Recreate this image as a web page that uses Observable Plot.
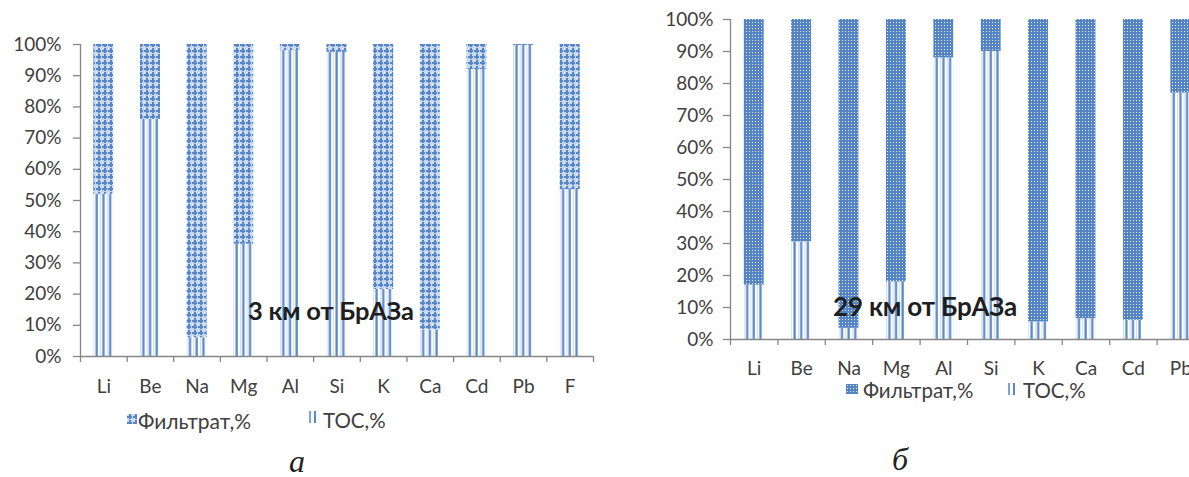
<!DOCTYPE html>
<html>
<head>
<meta charset="utf-8">
<script src="https://cdn.jsdelivr.net/npm/d3@7"></script>
<script src="https://cdn.jsdelivr.net/npm/@observablehq/plot@0.6"></script>
<style>
  html, body { margin: 0; padding: 0; background: #fff; }
  body { width: 1189px; height: 477px; overflow: hidden; position: relative; font-family: Lato, "Open Sans", sans-serif; color: #404040; }
  .abs { position: absolute; white-space: nowrap; }
  .chart { position: absolute; overflow: visible; }
  .chart svg { max-width: none !important; display: block; }
  .leg { position: absolute; font-size: 20.5px; line-height: 1; color: #404040; white-space: nowrap; }
  .note { position: absolute; font-weight: bold; line-height: 1; color: #1e1e1e; white-space: nowrap; letter-spacing: -0.2px; }
  .cap { position: absolute; font-family: "Liberation Serif", "DejaVu Serif", serif; font-style: italic; font-size: 32px; line-height: 1; color: #222; }
</style>
</head>
<body>
<svg width="0" height="0" style="position:absolute">
  <defs>
    <pattern id="patFiltA" patternUnits="userSpaceOnUse" width="6" height="6">
      <rect width="6" height="6" fill="#c6d6ee"/>
      <rect x="0" y="0" width="1" height="1" fill="#f2f6fc"/>
      <rect x="0" y="2" width="5" height="2" fill="#5686c6"/>
      <rect x="2" y="0" width="2" height="5" fill="#5686c6"/>
    </pattern>
    <pattern id="patFiltB" patternUnits="userSpaceOnUse" width="3" height="3">
      <rect width="3" height="3" fill="#5584c4"/>
      <rect x="1" y="1" width="1" height="1" fill="#e6edf8"/>
    </pattern>
    <pattern id="patToc" patternUnits="objectBoundingBox" patternContentUnits="objectBoundingBox" width="0.33333" height="1">
      <rect width="0.33333" height="1" fill="#ffffff"/>
      <rect x="0" width="0.04" height="1" fill="#c5d5ec"/>
      <rect x="0.115" width="0.115" height="1" fill="#5b88c8"/>
    </pattern>
  </defs>
</svg>

<div id="chartA" class="chart" style="left:0px; top:30px; width:600px; height:370px;"></div>
<div id="chartB" class="chart" style="left:640px; top:0px; width:574px; height:380px;"></div>

<div class="note" style="left:248px; top:298px; font-size:25.5px;">3 км от БрАЗа</div>
<div class="note" style="left:833px; top:293px; font-size:26px;">29 км от БрАЗа</div>

<div class="abs" style="left:127px; top:414px;"><svg width="10" height="10" style="display:block"><rect width="10" height="10" fill="url(#patFiltA)"/></svg></div>
<div class="leg" style="left:138px; top:410px; font-size:21px;">Фильтрат,%</div>
<div class="abs" style="left:307px; top:411px;"><svg width="12" height="12" style="display:block"><rect x="2" width="2" height="12" fill="#7fa3d6"/><rect x="7" width="2" height="12" fill="#5b88c8"/></svg></div>
<div class="leg" style="left:323px; top:410px;">ТОС,%</div>

<div class="abs" style="left:846px; top:384px;"><svg width="12" height="10" style="display:block"><rect width="12" height="10" fill="url(#patFiltB)"/></svg></div>
<div class="leg" style="left:863px; top:380px;">Фильтрат,%</div>
<div class="abs" style="left:1007px; top:383px;"><svg width="10" height="12" style="display:block"><rect x="1" width="2" height="12" fill="#7fa3d6"/><rect x="6" width="2" height="12" fill="#5b88c8"/></svg></div>
<div class="leg" style="left:1023px; top:380px;">ТОС,%</div>

<div class="cap" style="left:289px; top:445px;">а</div>
<div class="cap" style="left:892px; top:443px;">б</div>

<script>
// ---- data (panel а: 3 км) ----
const elementsA = ["Li", "Be", "Na", "Mg", "Al", "Si", "K", "Ca", "Cd", "Pb", "F"];
const tocA      = [52, 76, 6, 36, 98, 97.5, 21.5, 8.5, 92, 99.7, 53.5];
const filtrA    = [48, 24, 94, 64, 2, 2.5, 78.5, 91.5, 8, 0.3, 46.5];

// ---- data (panel б: 29 км) ----
const elementsB = ["Li", "Be", "Na", "Mg", "Al", "Si", "K", "Ca", "Cd", "Pb"];
const tocB      = [17, 30.5, 3.5, 18, 88, 90, 5.5, 6.5, 6, 77];
const filtrB    = [83, 69.5, 96.5, 82, 12, 10, 94.5, 93.5, 94, 23];

const seriesNames = ["ТОС", "Фильтрат"];
const yTicks = [0, 10, 20, 30, 40, 50, 60, 70, 80, 90, 100];

const axisColor = "#868686";
const textColor = "#404040";

function makeChart({elements, toc, filtr, filtPattern, width, height, marginLeft, marginRight, marginTop, marginBottom, barFrac, labelPad, yTickPad}) {
  const rows = elements.flatMap((el, i) => [
    {el, series: seriesNames[0], v: toc[i]},
    {el, series: seriesNames[1], v: filtr[i]}
  ]);
  const step = (width - marginLeft - marginRight) / elements.length;
  const inset = step * (1 - barFrac) / 2;
  const last = elements[elements.length - 1];
  return Plot.plot({
    width, height, marginLeft, marginRight, marginTop, marginBottom,
    style: {fontFamily: "Lato, 'Open Sans', sans-serif", fontSize: "19px", color: textColor, background: "transparent", overflow: "visible"},
    x: {domain: elements, padding: 0, round: false, label: null, axis: null},
    y: {domain: [0, 100], label: null, axis: null},
    color: {type: "identity"},
    marks: [
      Plot.barY(rows, Plot.stackY({
        x: "el", y: "v", z: "series",
        insetLeft: inset, insetRight: inset,
        fill: d => d.series === seriesNames[0] ? "url(#patToc)" : `url(#${filtPattern})`
      })),
      Plot.ruleY([0], {stroke: axisColor, strokeWidth: 1.3}),
      Plot.ruleX([elements[0]], {dx: -step / 2, y1: 0, y2: 100, stroke: axisColor, strokeWidth: 1.3}),
      Plot.axisY(yTicks, {tickSize: 7, tickPadding: yTickPad, tickFormat: d => d + "%", stroke: axisColor, fill: textColor, strokeWidth: 1.3}),
      Plot.axisX({tickSize: 0, tickPadding: labelPad, fill: textColor}),
      Plot.axisX(elements, {dx: -step / 2, tickSize: 6, tickFormat: () => "", stroke: axisColor, strokeWidth: 1.3}),
      Plot.axisX([last], {dx: step / 2, tickSize: 6, tickFormat: () => "", stroke: axisColor, strokeWidth: 1.3})
    ]
  });
}

document.getElementById("chartA").appendChild(makeChart({
  elements: elementsA, toc: tocA, filtr: filtrA, filtPattern: "patFiltA",
  width: 600, height: 370, marginLeft: 80, marginRight: 7, marginTop: 14, marginBottom: 44,
  barFrac: 0.43, labelPad: 23, yTickPad: 12
}));

document.getElementById("chartB").appendChild(makeChart({
  elements: elementsB, toc: tocB, filtr: filtrB, filtPattern: "patFiltB",
  width: 574, height: 380, marginLeft: 90, marginRight: 10, marginTop: 19, marginBottom: 41,
  barFrac: 0.42, labelPad: 22, yTickPad: 10
}));
</script>
</body>
</html>
